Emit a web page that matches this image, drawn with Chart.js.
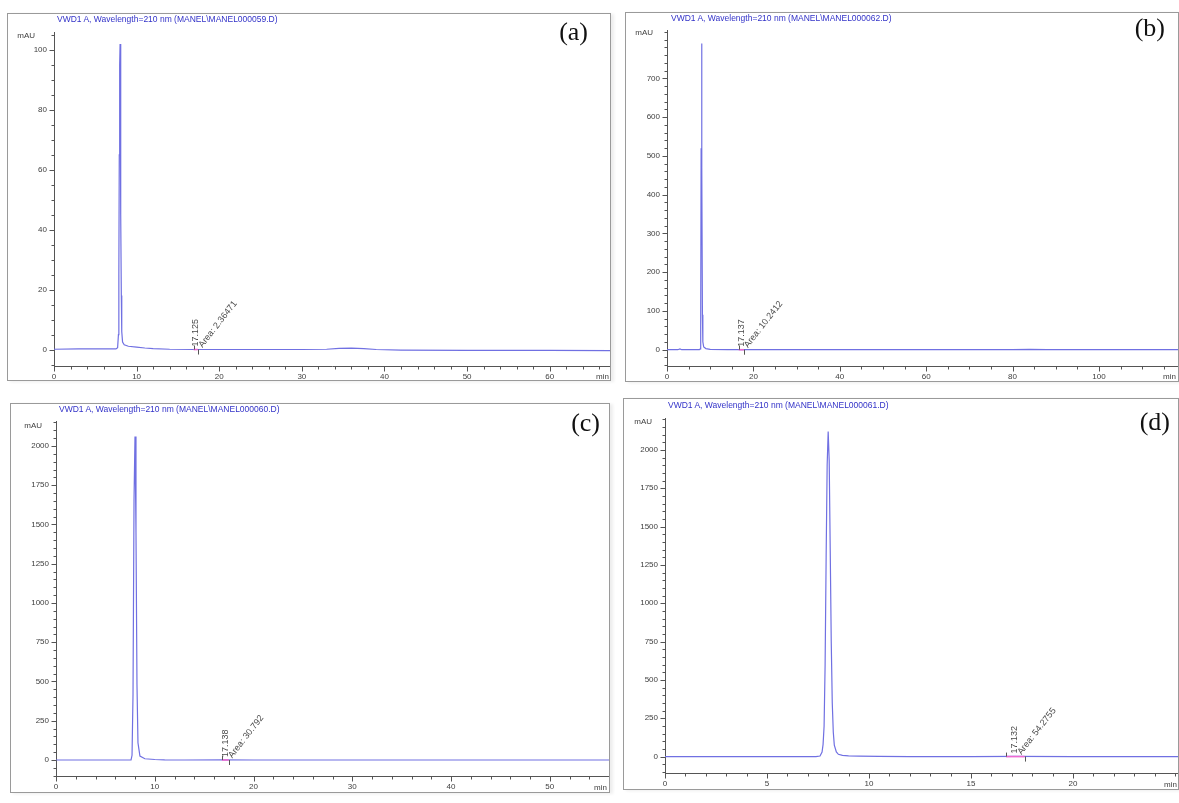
<!DOCTYPE html>
<html>
<head>
<meta charset="utf-8">
<script src="https://cdn.jsdelivr.net/npm/chart.js@4.4.1/dist/chart.umd.min.js"></script>
<style>
body { margin: 0; background: #fff; width: 1179px; height: 803px; position: relative; overflow: hidden; font-family: "Liberation Sans", Arial, sans-serif; }
.panel { position: absolute; border: 1px solid #9a9a9a; background: #fff; box-shadow: 3px 1px 3px rgba(0,0,0,0.07); }
.panel canvas { position: absolute; left: 0; top: 0; }
.ttl { position: absolute; font-size: 8.5px; line-height: 10px; color: #3232c8; white-space: nowrap; }
.mau, .unit { position: absolute; font-size: 8px; line-height: 10px; color: #404040; white-space: nowrap; transform: translate(-100%, -50%); }
.tag { position: absolute; font-family: "Liberation Serif", "Times New Roman", serif; font-size: 26px; line-height: 30px; color: #111; transform: translate(-100%, -50%); }
#pa { left: 7px; top: 13px; width: 602px; height: 366px; }
#pb { left: 625px; top: 12px; width: 552px; height: 368px; }
#pc { left: 10px; top: 403px; width: 598px; height: 388px; }
#pd { left: 623px; top: 398px; width: 554px; height: 390px; }
</style>
</head>
<body>
<div class="panel" id="pa">
    <canvas id="ca"></canvas>
    <span class="ttl" style="left:49px;top:0px">VWD1 A, Wavelength=210 nm (MANEL\MANEL000059.D)</span>
    <span class="mau" style="left:27px;top:22px">mAU</span>
    <span class="unit" style="left:601px;top:363px">min</span>
    <span class="tag" style="left:580px;top:18px">(a)</span>
</div>
<div class="panel" id="pb">
    <canvas id="cb"></canvas>
    <span class="ttl" style="left:45px;top:0px">VWD1 A, Wavelength=210 nm (MANEL\MANEL000062.D)</span>
    <span class="mau" style="left:27px;top:20px">mAU</span>
    <span class="unit" style="left:550px;top:364px">min</span>
    <span class="tag" style="left:539px;top:15px">(b)</span>
</div>
<div class="panel" id="pc">
    <canvas id="cc"></canvas>
    <span class="ttl" style="left:48px;top:0px">VWD1 A, Wavelength=210 nm (MANEL\MANEL000060.D)</span>
    <span class="mau" style="left:31px;top:22px">mAU</span>
    <span class="unit" style="left:596px;top:384px">min</span>
    <span class="tag" style="left:589px;top:19px">(c)</span>
</div>
<div class="panel" id="pd">
    <canvas id="cd"></canvas>
    <span class="ttl" style="left:44px;top:1px">VWD1 A, Wavelength=210 nm (MANEL\MANEL000061.D)</span>
    <span class="mau" style="left:28px;top:23px">mAU</span>
    <span class="unit" style="left:553px;top:386px">min</span>
    <span class="tag" style="left:546px;top:23px">(d)</span>
</div>
<script>
// (a) MANEL000059
const aTime = [0, 3, 6, 7.5, 7.7, 7.8, 7.85, 7.9, 7.95, 8.0, 8.05, 8.1, 8.15, 8.2, 8.3, 8.5, 9, 10, 11, 12, 14, 17, 20, 25, 30, 33, 34.5, 36, 37.5, 39, 42, 50, 60, 67.3];
const aSignal = [0.1, 0.2, 0.2, 0.2, 0.6, 5, 25, 65, 95, 102, 80, 45, 18, 6, 2.5, 1.6, 1.1, 0.8, 0.5, 0.3, 0.1, 0, 0, 0, 0, 0.1, 0.4, 0.5, 0.3, 0, -0.2, -0.3, -0.3, -0.4];
const aXTicks = [0, 10, 20, 30, 40, 50, 60];
const aYTicks = [0, 20, 40, 60, 80, 100];
const aPeak = 17.125, aArea = 2.36471, aInteg = [16.9, 17.4];

// (b) MANEL000062
const bTime = [0, 2.5, 3.0, 3.4, 7.5, 7.7, 7.8, 7.9, 8.0, 8.1, 8.2, 8.3, 8.5, 9, 10, 14, 17.1, 20, 40, 60, 80, 84, 88, 100, 118.3];
const bSignal = [0, 0, 2, 0, 0, 2, 60, 520, 790, 470, 90, 20, 7, 3, 1, 0, 0, 0, 0, 0, 0, 1, 0, 0, 0];
const bXTicks = [0, 20, 40, 60, 80, 100];
const bYTicks = [0, 100, 200, 300, 400, 500, 600, 700];
const bPeak = 17.137, bArea = 10.2412, bInteg = [16.6, 17.8];

// (c) MANEL000060
const cTime = [0, 5, 7.6, 7.7, 7.8, 7.9, 8.0, 8.1, 8.2, 8.3, 8.5, 9, 10, 11, 13, 17.1, 20, 30, 40, 50, 56];
const cSignal = [0, 0, 0, 30, 420, 1650, 2060, 1450, 480, 110, 25, 8, 3, 1, 0, 1, 0, 0, 0, 0, 0];
const cXTicks = [0, 10, 20, 30, 40, 50];
const cYTicks = [0, 250, 500, 750, 1000, 1250, 1500, 1750, 2000];
const cPeak = 17.138, cArea = 30.792, cInteg = [16.8, 17.5];

// (d) MANEL000061
const dTime = [0, 5, 7.4, 7.6, 7.7, 7.75, 7.8, 7.85, 7.9, 7.95, 8.0, 8.05, 8.1, 8.15, 8.2, 8.25, 8.3, 8.4, 8.5, 8.7, 9, 9.5, 10.5, 12, 15, 17.2, 20, 23.5, 25.15];
const dSignal = [0, 0, 0, 4, 30, 80, 200, 600, 1300, 1900, 2120, 1930, 1350, 750, 350, 160, 75, 30, 15, 8, 5, 3, 1, 0, 0, 1, 0, 0, 0];
const dXTicks = [0, 5, 10, 15, 20];
const dYTicks = [0, 250, 500, 750, 1000, 1250, 1500, 1750, 2000];
const dPeak = 17.132, dArea = 54.2755, dInteg = [16.72, 17.63];

const AXIS = '#555';
const TRACE = 'rgb(112,112,226)';
const INTEG = '#ee6ad2';

Chart.defaults.font.family = '"Liberation Sans", Arial, sans-serif';
Chart.defaults.animation = false;

// major + minor tick marks, drawn from the scales
const tickMarks = {
    id: 'tickMarks',
    afterDraw(chart, args, o) {
        const { ctx, chartArea: ca, scales: { x, y } } = chart;
        const left = Math.round(ca.left) + 0.5;
        const bottom = Math.round(ca.bottom) + 0.5;
        ctx.save();
        ctx.strokeStyle = AXIS;
        ctx.lineWidth = 1;
        ctx.beginPath();
        for (let i = Math.ceil(y.min / o.yStep); i * o.yStep <= y.max; i++) {
            const v = i * o.yStep;
            const p = Math.round(y.getPixelForValue(v)) + 0.5;
            const len = o.yMajor.includes(v) ? 5 : 3;
            ctx.moveTo(left - len, p); ctx.lineTo(left, p);
        }
        for (let i = Math.ceil(x.min / o.xStep); i * o.xStep <= x.max; i++) {
            const v = i * o.xStep;
            const p = Math.round(x.getPixelForValue(v)) + 0.5;
            const len = o.xMajor.includes(v) ? 5 : 3;
            ctx.moveTo(p, bottom); ctx.lineTo(p, bottom + len);
        }
        ctx.stroke();
        ctx.restore();
    }
};

// retention time + area labels of the integrated peak
const peakLabel = {
    id: 'peakLabel',
    afterDatasetsDraw(chart, args, o) {
        const { ctx, scales: { x, y } } = chart;
        const x0 = x.getPixelForValue(o.rt);
        const y0 = y.getPixelForValue(0);
        ctx.save();
        ctx.fillStyle = '#4a4a4a';
        ctx.font = '9px "Liberation Sans", Arial, sans-serif';
        ctx.textBaseline = 'middle';
        ctx.textAlign = 'left';

        ctx.save();
        ctx.translate(x0, y0 - 3);
        ctx.rotate(-Math.PI / 2);
        ctx.fillText(o.rt.toFixed(3), 0, 0);
        ctx.restore();

        ctx.save();
        ctx.translate(x0 + 5, y0 - 3);
        ctx.rotate(-52 * Math.PI / 180);
        ctx.fillText('Area: ' + o.area, 0, 0);
        ctx.restore();

        const xs = Math.round(x.getPixelForValue(o.integ[0])) + 0.5;
        const xe = Math.round(x.getPixelForValue(o.integ[1])) + 0.5;
        ctx.strokeStyle = AXIS;
        ctx.lineWidth = 1;
        ctx.beginPath();
        ctx.moveTo(xs, y0); ctx.lineTo(xs, y0 - 4);
        ctx.moveTo(xe, y0); ctx.lineTo(xe, y0 + 5);
        ctx.stroke();
        ctx.restore();
    }
};

function makeChart(id, p) {
    const trace = p.time.map((t, i) => ({ x: t, y: p.signal[i] }));
    const integ = p.integ.map(t => ({ x: t, y: 0 }));
    return new Chart(document.getElementById(id), {
        type: 'line',
        data: {
            datasets: [
                { data: integ, borderColor: INTEG, borderWidth: 1.6, pointRadius: 0 },
                { data: trace, borderColor: TRACE, borderWidth: 1.2, pointRadius: 0, tension: 0 }
            ]
        },
        options: {
            responsive: true,
            maintainAspectRatio: false,
            layout: { padding: { top: p.padTop, right: 0, left: 0, bottom: 0 } },
            plugins: {
                legend: { display: false },
                tooltip: { enabled: false },
                tickMarks: { xStep: p.xStep, yStep: p.yStep, xMajor: p.xTicks, yMajor: p.yTicks },
                peakLabel: { rt: p.rt, area: p.area, integ: p.integ }
            },
            scales: {
                x: {
                    type: 'linear', min: 0, max: p.xMax,
                    border: { display: true, color: AXIS, width: 1 },
                    grid: { display: false, drawTicks: false },
                    ticks: { color: '#404040', font: { size: 8 }, padding: 6, autoSkip: false, maxRotation: 0, callback: v => String(v) },
                    afterBuildTicks: s => { s.ticks = p.xTicks.map(v => ({ value: v })); },
                    afterFit: s => { s.height = p.xH; }
                },
                y: {
                    type: 'linear', min: p.yMin, max: p.yMax,
                    border: { display: true, color: AXIS, width: 1 },
                    grid: { display: false, drawTicks: false },
                    ticks: { color: '#404040', font: { size: 8 }, padding: 7, autoSkip: false, callback: v => String(v) },
                    afterBuildTicks: s => { s.ticks = p.yTicks.map(v => ({ value: v })); },
                    afterFit: s => { s.width = p.yW; }
                }
            }
        },
        plugins: [tickMarks, peakLabel]
    });
}

makeChart('ca', { time: aTime, signal: aSignal, xTicks: aXTicks, yTicks: aYTicks, rt: aPeak, area: aArea, integ: aInteg,
    xMax: 67.3, yMin: -5.5, yMax: 106, xStep: 2, yStep: 5, yW: 46, xH: 14, padTop: 18 });
makeChart('cb', { time: bTime, signal: bSignal, xTicks: bXTicks, yTicks: bYTicks, rt: bPeak, area: bArea, integ: bInteg,
    xMax: 118.3, yMin: -42, yMax: 825, xStep: 5, yStep: 20, yW: 41, xH: 15, padTop: 17 });
makeChart('cc', { time: cTime, signal: cSignal, xTicks: cXTicks, yTicks: cYTicks, rt: cPeak, area: cArea, integ: cInteg,
    xMax: 56, yMin: -102, yMax: 2159, xStep: 2, yStep: 50, yW: 45, xH: 16, padTop: 17 });
makeChart('cd', { time: dTime, signal: dSignal, xTicks: dXTicks, yTicks: dYTicks, rt: dPeak, area: dArea, integ: dInteg,
    xMax: 25.15, yMin: -107, yMax: 2208, xStep: 1, yStep: 50, yW: 41, xH: 16, padTop: 19 });
</script>
</body>
</html>
